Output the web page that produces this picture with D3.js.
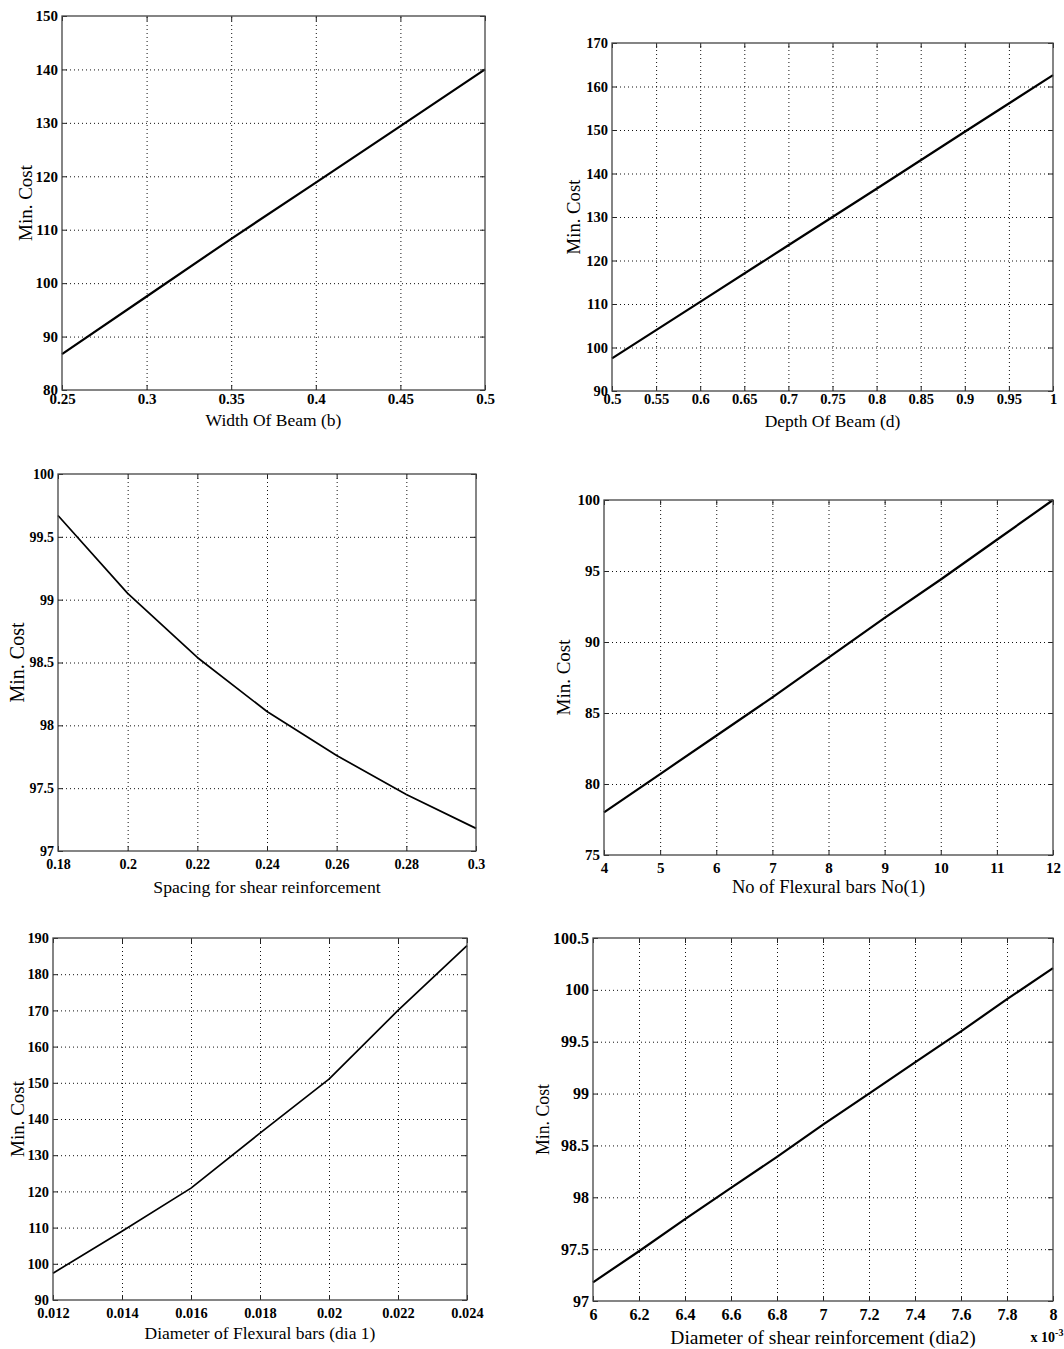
<!DOCTYPE html>
<html lang="en">
<head>
<meta charset="UTF-8">
<title>Min. Cost</title>
<script src="https://d3js.org/d3.v7.min.js"></script>
<style>
body{margin:0;background:#fff}
svg text{font-family:"Liberation Serif","Times New Roman",serif;fill:#000}
</style>
</head>
<body>
<svg width="1064" height="1349"></svg>
<script>
// 1: width of beam
const beamWidth = [0.25, 0.3, 0.35, 0.4, 0.45, 0.5];
const costWidth = [86.7, 97.5, 108.3, 118.8, 129.4, 140.0];
const widthXTicks = [0.25, 0.3, 0.35, 0.4, 0.45, 0.5];
const widthYTicks = [80, 90, 100, 110, 120, 130, 140, 150];

// 2: depth of beam
const beamDepth = [0.5, 0.6, 0.7, 0.8, 0.9, 1.0];
const costDepth = [97.5, 110.5, 123.5, 136.5, 149.6, 162.6];
const depthXTicks = [0.5, 0.55, 0.6, 0.65, 0.7, 0.75, 0.8, 0.85, 0.9, 0.95, 1];
const depthYTicks = [90, 100, 110, 120, 130, 140, 150, 160, 170];

// 3: spacing for shear reinforcement
const shearSpacing = [0.18, 0.2, 0.22, 0.24, 0.26, 0.28, 0.3];
const costSpacing = [99.67, 99.05, 98.54, 98.11, 97.76, 97.45, 97.18];
const spacingXTicks = [0.18, 0.2, 0.22, 0.24, 0.26, 0.28, 0.3];
const spacingYTicks = [97, 97.5, 98, 98.5, 99, 99.5, 100];

// 4: number of flexural bars
const flexBars = [4, 5, 6, 7, 8, 9, 10, 11, 12];
const costBars = [78.0, 80.7, 83.4, 86.1, 88.9, 91.7, 94.4, 97.2, 100.0];
const barsXTicks = [4, 5, 6, 7, 8, 9, 10, 11, 12];
const barsYTicks = [75, 80, 85, 90, 95, 100];

// 5: diameter of flexural bars
const diaFlex = [0.012, 0.014, 0.016, 0.018, 0.02, 0.022, 0.024];
const costDiaFlex = [97.4, 109.0, 120.9, 136.1, 151.0, 170.0, 187.9];
const diaFlexXTicks = [0.012, 0.014, 0.016, 0.018, 0.02, 0.022, 0.024];
const diaFlexYTicks = [90, 100, 110, 120, 130, 140, 150, 160, 170, 180, 190];

// 6: diameter of shear reinforcement (x 10^-3)
const diaShear = [6.0, 6.2, 6.4, 6.6, 6.8, 7.0, 7.2, 7.4, 7.6, 7.8, 8.0];
const costDiaShear = [97.18, 97.48, 97.79, 98.09, 98.39, 98.70, 99.00, 99.30, 99.60, 99.91, 100.21];
const diaShearXTicks = [6, 6.2, 6.4, 6.6, 6.8, 7, 7.2, 7.4, 7.6, 7.8, 8];
const diaShearYTicks = [97, 97.5, 98, 98.5, 99, 99.5, 100, 100.5];

let panels = [
 {xs:beamWidth, ys:costWidth, xt:widthXTicks, yt:widthYTicks, xlabel:"Width Of Beam (b)",
  left:62, top:16, right:485, bottom:390, tickFs:15, labFs:17.5, yFs:19, xPad:3, xLab:30, yLab:37, lw:2.2},
 {xs:beamDepth, ys:costDepth, xt:depthXTicks, yt:depthYTicks, xlabel:"Depth Of Beam (d)",
  left:612, top:43, right:1053, bottom:391, tickFs:14.5, labFs:17.5, yFs:18.7, xPad:3, xLab:30, yLab:39, lw:2.2},
 {xs:shearSpacing, ys:costSpacing, xt:spacingXTicks, yt:spacingYTicks, xlabel:"Spacing for shear reinforcement",
  left:58, top:474, right:476, bottom:851, tickFs:14, labFs:17.7, yFs:20, xPad:8.5, xLab:36, yLab:41, lw:1.7},
 {xs:flexBars, ys:costBars, xt:barsXTicks, yt:barsYTicks, xlabel:"No of Flexural bars No(1)",
  left:604, top:500, right:1053, bottom:855, tickFs:15, labFs:18.5, yFs:19, xPad:7, xLab:32, yLab:41, lw:2.2},
 {xs:diaFlex, ys:costDiaFlex, xt:diaFlexXTicks, yt:diaFlexYTicks, xlabel:"Diameter of Flexural bars (dia 1)",
  left:53, top:938, right:467, bottom:1300, tickFs:14.4, labFs:17.5, yFs:19, xPad:7.5, xLab:33, yLab:36, lw:1.7},
 {xs:diaShear, ys:costDiaShear, xt:diaShearXTicks, yt:diaShearYTicks, xlabel:"Diameter of shear reinforcement (dia2)",
  left:593, top:938, right:1053, bottom:1301, tickFs:16, labFs:19.5, yFs:17.8, xPad:8, xLab:36, yLab:50, lw:2.2, exp:true}
];

let svg = d3.select("svg");
svg.append("rect").attr("width",1064).attr("height",1349).attr("fill","#fff");

panels.forEach(p => {
  let x = d3.scaleLinear().domain([p.xt[0], p.xt[p.xt.length-1]]).range([p.left, p.right]);
  let y = d3.scaleLinear().domain([p.yt[0], p.yt[p.yt.length-1]]).range([p.bottom, p.top]);
  let w = p.right - p.left, h = p.bottom - p.top;
  let g = svg.append("g");

  // dotted grid
  g.append("g").attr("transform",`translate(0,${p.bottom})`)
   .call(d3.axisBottom(x).tickValues(p.xt.slice(1,-1)).tickSize(-h).tickFormat(""))
   .call(a => a.select(".domain").remove())
   .selectAll("line").attr("stroke","#111").attr("stroke-dasharray","1,3");
  g.append("g").attr("transform",`translate(${p.left},0)`)
   .call(d3.axisLeft(y).tickValues(p.yt.slice(1,-1)).tickSize(-w).tickFormat(""))
   .call(a => a.select(".domain").remove())
   .selectAll("line").attr("stroke","#111").attr("stroke-dasharray","1,3");

  // curve
  g.append("path")
   .datum(p.xs.map((v,i) => [v, p.ys[i]]))
   .attr("d", d3.line().x(d => x(d[0])).y(d => y(d[1])))
   .attr("fill","none").attr("stroke","#000").attr("stroke-width",p.lw)
   .attr("stroke-linejoin","round");

  // inward ticks on all sides
  let bottomAx = g.append("g").attr("transform",`translate(0,${p.bottom})`)
   .call(d3.axisBottom(x).tickValues(p.xt).tickSizeInner(-5).tickSizeOuter(0).tickPadding(p.xPad).tickFormat(d => String(d)));
  let leftAx = g.append("g").attr("transform",`translate(${p.left},0)`)
   .call(d3.axisLeft(y).tickValues(p.yt).tickSizeInner(-5).tickSizeOuter(0).tickPadding(4).tickFormat(d => String(d)));
  g.append("g").attr("transform",`translate(0,${p.top})`)
   .call(d3.axisTop(x).tickValues(p.xt).tickSizeInner(-5).tickSizeOuter(0).tickFormat(""));
  g.append("g").attr("transform",`translate(${p.right},0)`)
   .call(d3.axisRight(y).tickValues(p.yt).tickSizeInner(-5).tickSizeOuter(0).tickFormat(""));
  g.selectAll(".domain").remove();
  g.selectAll(".tick line").filter(function(){ return !this.getAttribute("stroke-dasharray"); })
   .attr("stroke","#222");
  [bottomAx, leftAx].forEach(a => a.attr("font-family",null).attr("font-size",null)
    .selectAll("text").style("font-size",p.tickFs+"px").style("font-weight","bold"));

  // box
  g.append("rect").attr("x",p.left).attr("y",p.top).attr("width",w).attr("height",h)
   .attr("fill","none").attr("stroke","#444").attr("stroke-width",1.3);

  // labels
  g.append("text").attr("x",(p.left+p.right)/2).attr("y",p.bottom+p.xLab).attr("dy","0.35em")
   .attr("text-anchor","middle").style("font-size",p.labFs+"px").text(p.xlabel);
  g.append("text").attr("transform",`translate(${p.left-p.yLab},${(p.top+p.bottom)/2}) rotate(-90)`)
   .attr("dy","0.35em").attr("text-anchor","middle").style("font-size",p.yFs+"px").text("Min. Cost");

  if (p.exp) {
    let t = g.append("text").attr("x",p.right-6).attr("y",p.bottom+36).attr("dy","0.35em")
     .attr("text-anchor","middle").style("font-size","14px").style("font-weight","bold");
    t.append("tspan").text("x 10");
    t.append("tspan").attr("dy","-0.6em").style("font-size","10px").text("-3");
  }
});
</script>
</body>
</html>
